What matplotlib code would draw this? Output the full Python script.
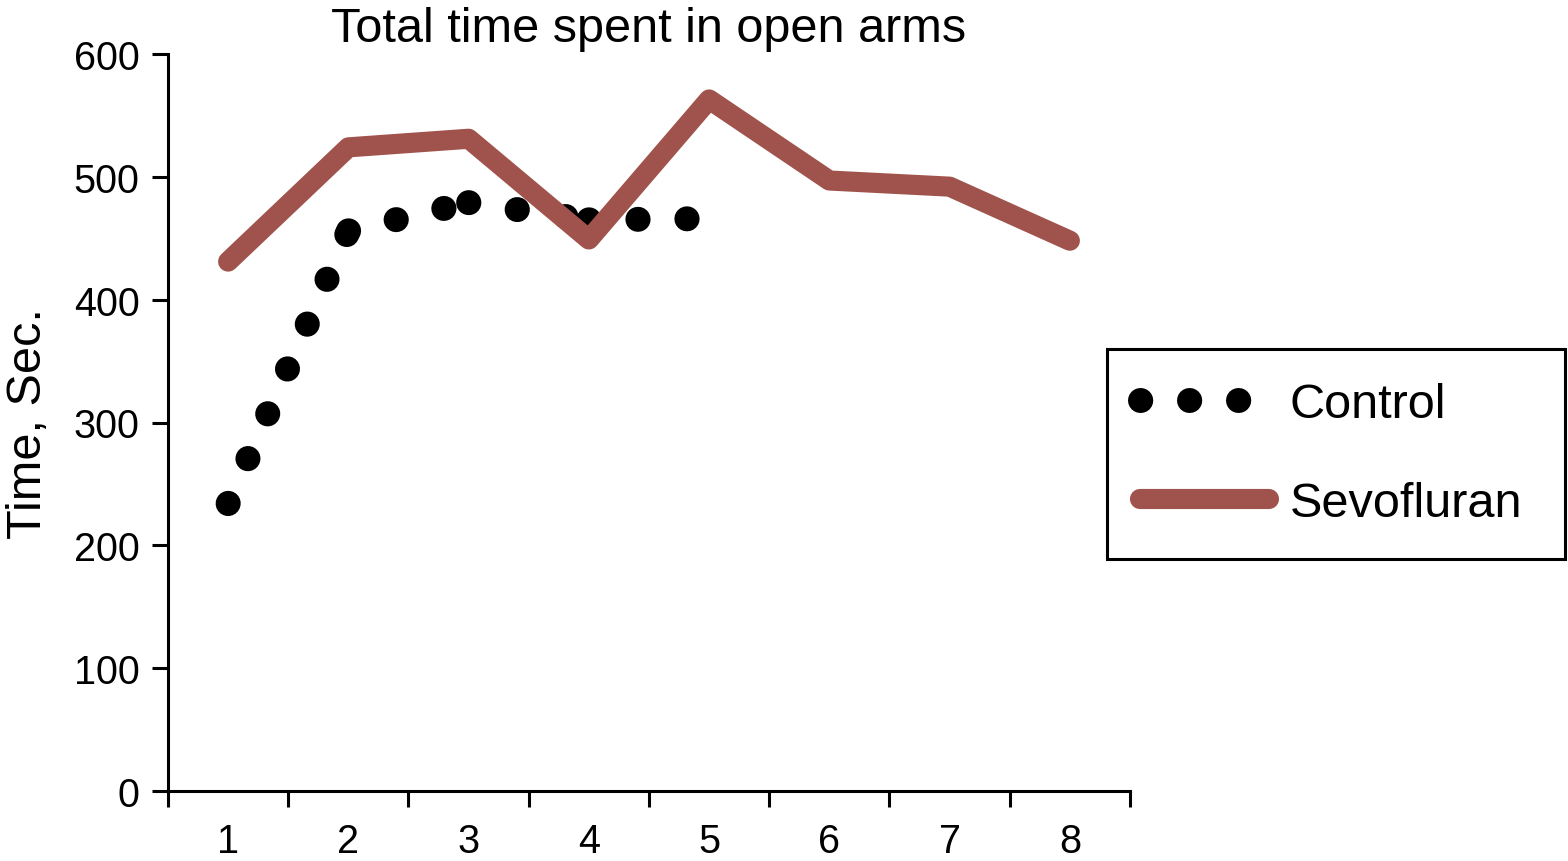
import matplotlib
matplotlib.use('Agg')
import matplotlib.pyplot as plt

plt.rcParams['font.family'] = ['Liberation Sans', 'DejaVu Sans']

# 数据
days = [1, 2, 3, 4, 5, 6, 7, 8]
control_days = [1, 2, 3, 4, 5]
control = [234, 456, 479, 465, 466]
sevofluran = [431, 524, 531, 449, 563, 497, 492, 448]
x_labels = ['1', '2', '3', '4', '5', '6', '7', '8']
y_ticks = [0, 100, 200, 300, 400, 500, 600]

red = '#A0534C'

fig = plt.figure(figsize=(15.68, 8.62), dpi=100)
ax = fig.add_axes([168 / 1568, 1 - 792 / 862, 962 / 1568, 737 / 862])

# Control: 每段单独画点线（原图每段重新开始点的节奏）
for i in range(len(control_days) - 1):
    ax.plot(control_days[i:i + 2], control[i:i + 2], color='black',
            linewidth=18, linestyle=(0, (0.01, 1.95)),
            dash_capstyle='round', zorder=2,
            label='Control' if i == 0 else None)

ax.plot(days, sevofluran, color=red, linewidth=14.5,
        solid_capstyle='round', solid_joinstyle='round', zorder=3,
        label='Sevofluran')

ax.set_xlim(0.5, 8.5)
ax.set_ylim(0, 600)
ax.set_xticks([d - 0.5 for d in days] + [days[-1] + 0.5])
ax.set_xticklabels([])
ax.set_xticks(days, minor=True)
ax.set_xticklabels(x_labels, minor=True)
ax.set_yticks(y_ticks)
ax.set_yticklabels([str(v) for v in y_ticks])

ax.tick_params(axis='x', which='major', direction='out', length=11.5, width=2.2)
ax.tick_params(axis='x', which='minor', length=0, labelsize=28.5, pad=22)
ax.tick_params(axis='y', direction='out', length=11.5, width=2.2,
               labelsize=28.5, pad=9)

for s in ['top', 'right']:
    ax.spines[s].set_visible(False)
for s in ['left', 'bottom']:
    ax.spines[s].set_linewidth(2.2)

ax.set_title('Total time spent in open arms', fontsize=35, pad=9)
ax.set_ylabel('Time, Sec.', fontsize=35, labelpad=16)

leg = ax.legend(loc='upper left',
                bbox_to_anchor=(1107 / 1568, 1 - 350 / 862, 458 / 1568, 0.0),
                bbox_transform=fig.transFigure, mode='expand',
                fontsize=35, frameon=True, fancybox=False, framealpha=1,
                edgecolor='black', borderpad=0.68, labelspacing=1.1,
                handlelength=2.65, handletextpad=0.43, borderaxespad=0)
leg.get_frame().set_linewidth(2.2)

fig.savefig('out.png', dpi=100)
